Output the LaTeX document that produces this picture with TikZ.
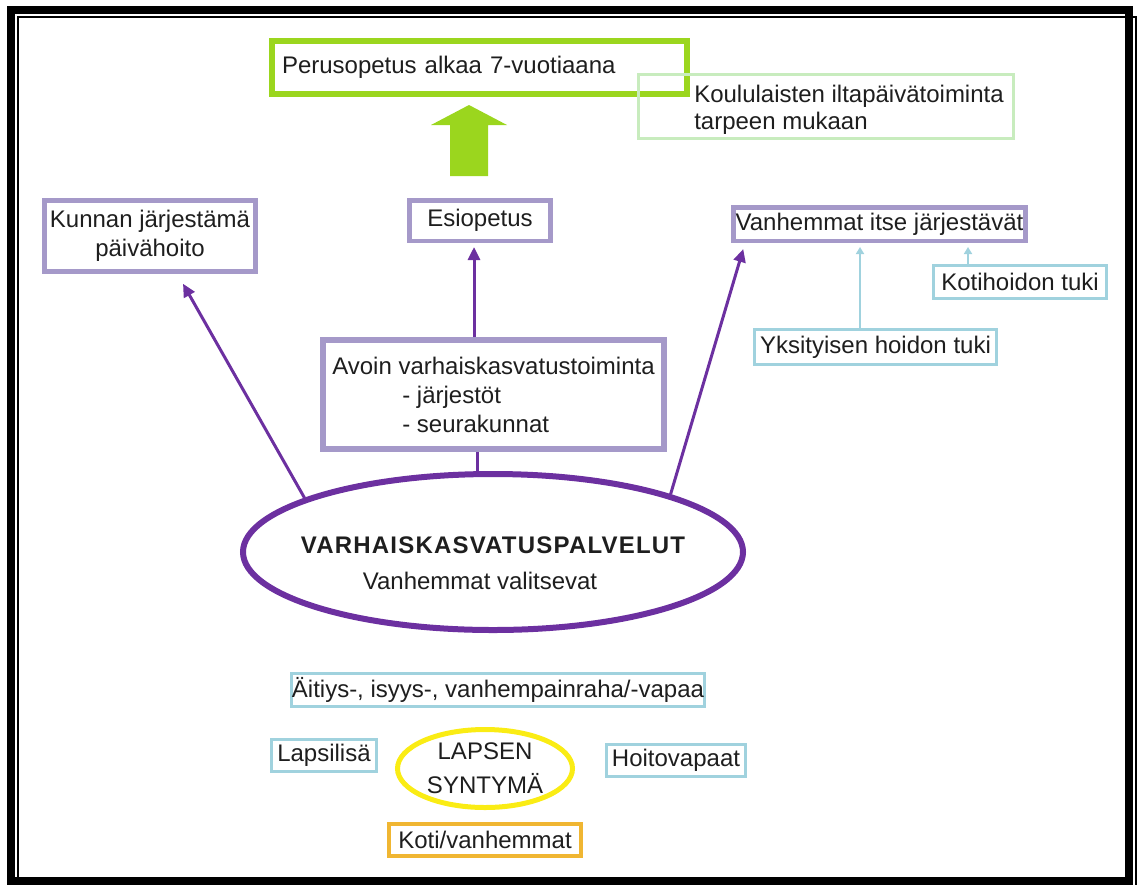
\documentclass[tikz,border=0pt]{standalone}
\usepackage{fontspec}
\setmainfont{Liberation Sans}
\usetikzlibrary{arrows.meta,shapes.geometric}

\definecolor{lila}{RGB}{165,153,201}
\definecolor{tummalila}{RGB}{108,48,160}
\definecolor{vihrea}{RGB}{155,214,30}
\definecolor{vaaleavihrea}{RGB}{200,236,190}
\definecolor{vaaleasininen}{RGB}{160,210,222}
\definecolor{keltainen}{RGB}{250,236,20}
\definecolor{oranssi}{RGB}{240,182,50}
\definecolor{teksti}{RGB}{30,30,30}

\begin{document}
\begin{tikzpicture}[x=1pt,y=-1pt,
  every node/.style={font=\fontsize{24}{29}\selectfont, text=teksti, inner sep=0pt},
  lilaboksi/.style={draw=lila, line width=4.5pt},
  tukiboksi/.style={draw=vaaleasininen, line width=3pt},
  yhteys/.style={draw=tummalila, line width=3pt, -{Triangle[width=12pt,length=13pt]}},
  tukinuoli/.style={draw=vaaleasininen, line width=2.5pt, -{Triangle[width=8pt,length=7pt]}, shorten >=4pt}]
  \useasboundingbox (0,0) rectangle (1142,884);

  % kehys
  \draw[line width=8pt] (11,9.5) rectangle (1129,881);
  \draw[line width=2pt] (18,17) rectangle (1136,890);

  % ylarivi
  \node[draw=vihrea, line width=6pt, minimum width=415pt, minimum height=53pt,
    text width=395pt, align=left] (perus) at (479.5,67.5) {Perusopetus alkaa 7-vuotiaana};
  \node[draw=vaaleavihrea, line width=3pt, minimum width=375pt, minimum height=64pt,
    label={[xshift=23pt,yshift=-3pt,align=left]center:{Koululaisten iltapäivätoiminta\\[-2pt]tarpeen mukaan}}]
    (koulu) at (826,106.5) {};
  \fill[vihrea] (450,176) -- (450,125) -- (431,125) -- (469,105) -- (507,125) -- (488,125) -- (488,176) -- cycle;

  % palvelut
  \node[lilaboksi, minimum width=211pt, minimum height=71pt, align=center] (kunnan) at (150,236)
    {Kunnan järjestämä\\päivähoito};
  \node[lilaboksi, minimum width=141pt, minimum height=40.5pt] (esio) at (480,220.5) {Esiopetus};
  \node[lilaboksi, minimum width=292pt, minimum height=33.5pt] (vanhemmat) at (879.5,224) {Vanhemmat itse järjestävät};
  \node[tukiboksi, minimum width=173pt, minimum height=33pt] (kotihoito) at (1020,282) {Kotihoidon tuki};
  \node[tukiboksi, minimum width=242pt, minimum height=35pt] (yksityinen) at (875.5,347) {Yksityisen hoidon tuki};
  \node[lilaboksi, line width=6pt, minimum width=341pt, minimum height=109pt, align=left] (avoin) at (493.5,394.5)
    {Avoin varhaiskasvatustoiminta\\\hspace*{70pt}- järjestöt\\\hspace*{70pt}- seurakunnat};
  \node[ellipse, draw=tummalila, line width=6pt, minimum width=500pt, minimum height=156pt,
    label={[yshift=-11pt,align=center]center:{{\bfseries\addfontfeature{LetterSpace=5}VARHAISKASVATUSPALVELUT}\\[7pt]Vanhemmat valitsevat\hspace*{26pt}}}]
    (varhais) at (493,552) {};

  % alaosa
  \node[tukiboksi, minimum width=407pt, minimum height=33pt] (aitiys) at (498,690) {Äitiys-, isyys-, vanhempainraha/-vapaa};
  \node[tukiboksi, minimum width=105pt, minimum height=32pt] (lapsilisa) at (324,755.5) {Lapsilisä};
  \node[tukiboksi, minimum width=139pt, minimum height=32pt] (hoitovapaat) at (676,760.5) {Hoitovapaat};
  \node[ellipse, draw=keltainen, line width=5pt, minimum width=175pt, minimum height=78pt, align=center]
    (syntyma) at (485,768.5) {LAPSEN\\[5pt]SYNTYMÄ};
  \node[draw=oranssi, line width=4pt, minimum width=192pt, minimum height=32pt] (koti) at (485,840) {Koti/vanhemmat};

  % nuolet
  \draw[yhteys] (varhais.164) -- ([xshift=33pt,yshift=-10pt]kunnan.south);
  \draw[yhteys] (varhais.18) -- ([xshift=12pt,yshift=-6pt]vanhemmat.south west);
  \draw[yhteys] ([xshift=-6pt]esio.south |- avoin.north) -- ([xshift=-6pt,yshift=-4pt]esio.south);
  \draw[tummalila, line width=3pt] ([xshift=-16pt]avoin.south) -- ([xshift=-16pt]avoin.south |- varhais.north);
  \draw[tukinuoli] ([xshift=-15.5pt]yksityinen.north) -- ([xshift=-15.5pt]yksityinen.north |- vanhemmat.south);
  \draw[tukinuoli] ([xshift=-52pt]kotihoito.north) -- ([xshift=-52pt]kotihoito.north |- vanhemmat.south);
\end{tikzpicture}
\end{document}
